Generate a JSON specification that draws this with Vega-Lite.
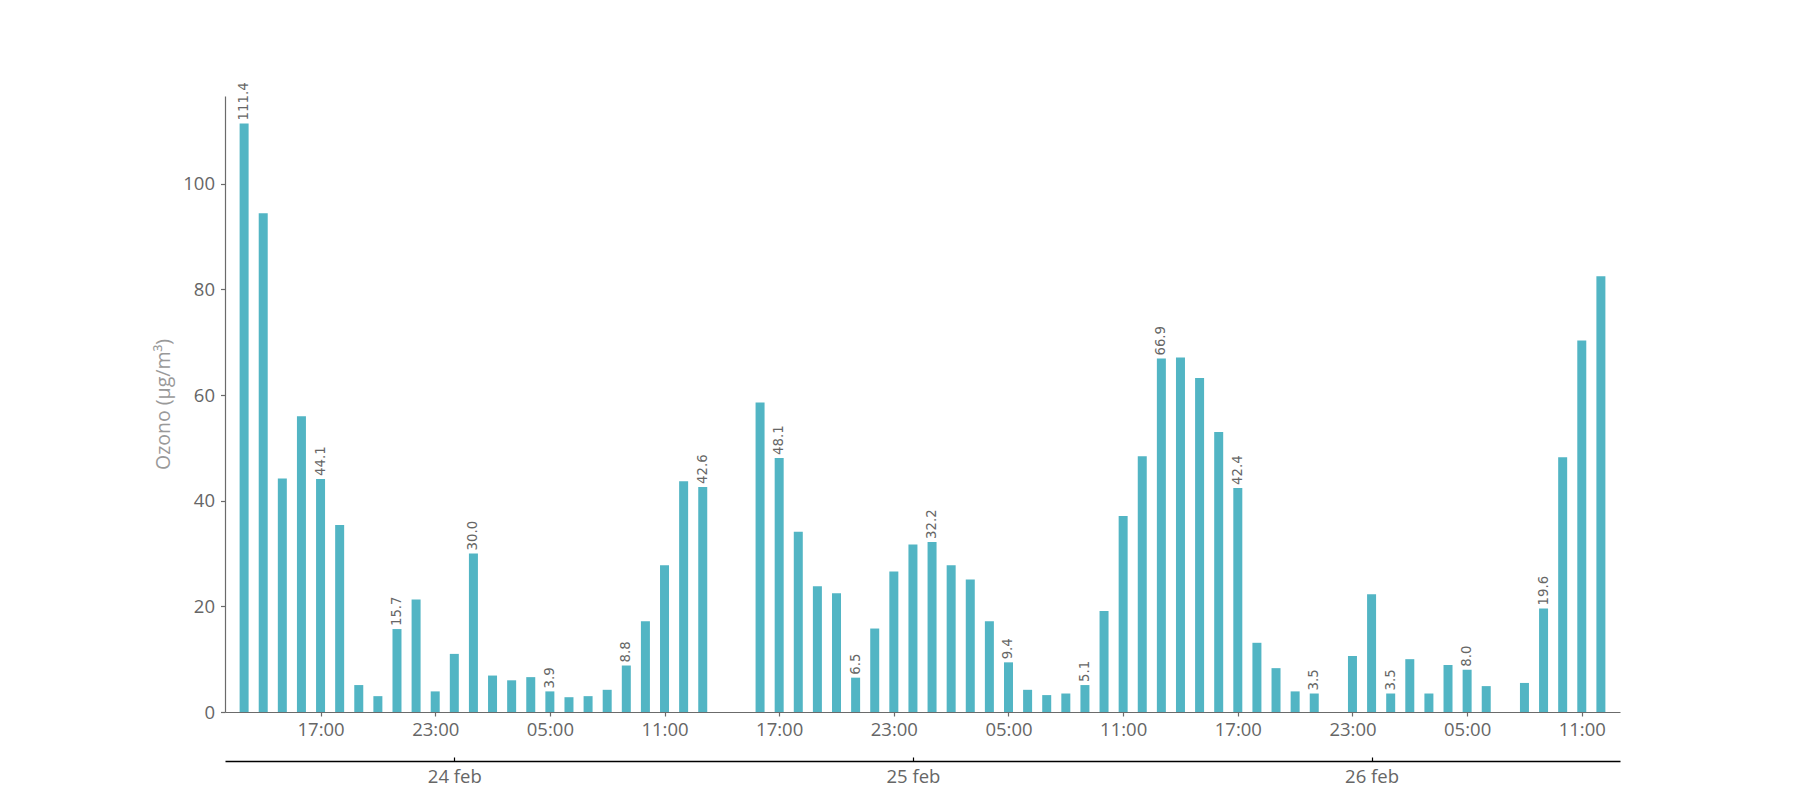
{
  "$schema": "https://vega.github.io/schema/vega-lite/v6.json",
  "autosize": {"type": "none"},
  "width": 1395,
  "height": 616,
  "padding": {"left": 225, "top": 96, "right": 180, "bottom": 88},
  "background": "white",
  "config": {
    "view": {"stroke": null},
    "axis": {"grid": false, "labelFont": "Open Sans", "titleFont": "Open Sans"}
  },
  "datasets": {
    "ozone": [
      {"time": "2024-02-23T13:00:00", "ozono": 111.4},
      {"time": "2024-02-23T14:00:00", "ozono": 94.4},
      {"time": "2024-02-23T15:00:00", "ozono": 44.2},
      {"time": "2024-02-23T16:00:00", "ozono": 56.0},
      {"time": "2024-02-23T17:00:00", "ozono": 44.1},
      {"time": "2024-02-23T18:00:00", "ozono": 35.4},
      {"time": "2024-02-23T19:00:00", "ozono": 5.1},
      {"time": "2024-02-23T20:00:00", "ozono": 3.0},
      {"time": "2024-02-23T21:00:00", "ozono": 15.7},
      {"time": "2024-02-23T22:00:00", "ozono": 21.3},
      {"time": "2024-02-23T23:00:00", "ozono": 3.9},
      {"time": "2024-02-24T00:00:00", "ozono": 11.0},
      {"time": "2024-02-24T01:00:00", "ozono": 30.0},
      {"time": "2024-02-24T02:00:00", "ozono": 6.9},
      {"time": "2024-02-24T03:00:00", "ozono": 6.0},
      {"time": "2024-02-24T04:00:00", "ozono": 6.6},
      {"time": "2024-02-24T05:00:00", "ozono": 3.9},
      {"time": "2024-02-24T06:00:00", "ozono": 2.8},
      {"time": "2024-02-24T07:00:00", "ozono": 3.0},
      {"time": "2024-02-24T08:00:00", "ozono": 4.2},
      {"time": "2024-02-24T09:00:00", "ozono": 8.8},
      {"time": "2024-02-24T10:00:00", "ozono": 17.2},
      {"time": "2024-02-24T11:00:00", "ozono": 27.8},
      {"time": "2024-02-24T12:00:00", "ozono": 43.7},
      {"time": "2024-02-24T13:00:00", "ozono": 42.6},
      {"time": "2024-02-24T16:00:00", "ozono": 58.6},
      {"time": "2024-02-24T17:00:00", "ozono": 48.1},
      {"time": "2024-02-24T18:00:00", "ozono": 34.1},
      {"time": "2024-02-24T19:00:00", "ozono": 23.8},
      {"time": "2024-02-24T20:00:00", "ozono": 22.5},
      {"time": "2024-02-24T21:00:00", "ozono": 6.5},
      {"time": "2024-02-24T22:00:00", "ozono": 15.8},
      {"time": "2024-02-24T23:00:00", "ozono": 26.6},
      {"time": "2024-02-25T00:00:00", "ozono": 31.7},
      {"time": "2024-02-25T01:00:00", "ozono": 32.2},
      {"time": "2024-02-25T02:00:00", "ozono": 27.8},
      {"time": "2024-02-25T03:00:00", "ozono": 25.1},
      {"time": "2024-02-25T04:00:00", "ozono": 17.2},
      {"time": "2024-02-25T05:00:00", "ozono": 9.4},
      {"time": "2024-02-25T06:00:00", "ozono": 4.2},
      {"time": "2024-02-25T07:00:00", "ozono": 3.2},
      {"time": "2024-02-25T08:00:00", "ozono": 3.5},
      {"time": "2024-02-25T09:00:00", "ozono": 5.1},
      {"time": "2024-02-25T10:00:00", "ozono": 19.1},
      {"time": "2024-02-25T11:00:00", "ozono": 37.1},
      {"time": "2024-02-25T12:00:00", "ozono": 48.4},
      {"time": "2024-02-25T13:00:00", "ozono": 66.9},
      {"time": "2024-02-25T14:00:00", "ozono": 67.1},
      {"time": "2024-02-25T15:00:00", "ozono": 63.2},
      {"time": "2024-02-25T16:00:00", "ozono": 53.0},
      {"time": "2024-02-25T17:00:00", "ozono": 42.4},
      {"time": "2024-02-25T18:00:00", "ozono": 13.1},
      {"time": "2024-02-25T19:00:00", "ozono": 8.3},
      {"time": "2024-02-25T20:00:00", "ozono": 3.9},
      {"time": "2024-02-25T21:00:00", "ozono": 3.5},
      {"time": "2024-02-25T23:00:00", "ozono": 10.6},
      {"time": "2024-02-26T00:00:00", "ozono": 22.3},
      {"time": "2024-02-26T01:00:00", "ozono": 3.5},
      {"time": "2024-02-26T02:00:00", "ozono": 10.0},
      {"time": "2024-02-26T03:00:00", "ozono": 3.5},
      {"time": "2024-02-26T04:00:00", "ozono": 8.9},
      {"time": "2024-02-26T05:00:00", "ozono": 8.0},
      {"time": "2024-02-26T06:00:00", "ozono": 4.9},
      {"time": "2024-02-26T08:00:00", "ozono": 5.5},
      {"time": "2024-02-26T09:00:00", "ozono": 19.6},
      {"time": "2024-02-26T10:00:00", "ozono": 48.2},
      {"time": "2024-02-26T11:00:00", "ozono": 70.3},
      {"time": "2024-02-26T12:00:00", "ozono": 82.5}
    ]
  },
  "data": {"name": "ozone"},
  "layer": [
    {
      "layer": [
        {
          "mark": {"type": "bar", "color": "#52b5c4", "width": 9},
          "encoding": {
            "x": {
              "field": "time",
              "type": "temporal",
              "scale": {"domain": [
                {"year": 2024, "month": 2, "date": 23, "hours": 12},
                {"year": 2024, "month": 2, "date": 26, "hours": 13}
              ], "padding": 0, "nice": false},
              "axis": {
                "title": null,
                "values": [
                  {"year": 2024, "month": 2, "date": 23, "hours": 17},
                  {"year": 2024, "month": 2, "date": 23, "hours": 23},
                  {"year": 2024, "month": 2, "date": 24, "hours": 5},
                  {"year": 2024, "month": 2, "date": 24, "hours": 11},
                  {"year": 2024, "month": 2, "date": 24, "hours": 17},
                  {"year": 2024, "month": 2, "date": 24, "hours": 23},
                  {"year": 2024, "month": 2, "date": 25, "hours": 5},
                  {"year": 2024, "month": 2, "date": 25, "hours": 11},
                  {"year": 2024, "month": 2, "date": 25, "hours": 17},
                  {"year": 2024, "month": 2, "date": 25, "hours": 23},
                  {"year": 2024, "month": 2, "date": 26, "hours": 5},
                  {"year": 2024, "month": 2, "date": 26, "hours": 11}
                ],
                "format": "%H:%M",
                "labelFontSize": 18.5,
                "labelColor": "#666666",
                "domainColor": "#6b6b6b",
                "domainWidth": 1.2,
                "tickColor": "#6b6b6b",
                "tickSize": 4,
                "tickWidth": 1.2,
                "labelPadding": 4,
                "labelFlush": false,
                "labelOverlap": false
              }
            },
            "y": {
              "field": "ozono",
              "type": "quantitative",
              "scale": {"domain": [0, 116.6], "nice": false, "zero": true, "padding": 0},
              "axis": {
                "values": [0, 20, 40, 60, 80, 100],
                "title": "Ozono (μg/m³)",
                "titleFontSize": 19.5,
                "titleFontWeight": "normal",
                "titleColor": "#999999",
                "titleAngle": 270,
                "titleAlign": "center",
                "titleBaseline": "middle",
                "titleX": -62,
                "titleY": 308,
                "labelFontSize": 18.5,
                "labelColor": "#666666",
                "domainColor": "#6b6b6b",
                "domainWidth": 1.2,
                "tickColor": "#6b6b6b",
                "tickWidth": 1.2,
                "tickSize": 4.5,
                "labelPadding": 6,
                "labelFlush": false
              }
            }
          }
        },
        {
          "transform": [{"filter": "hours(datum.time) % 4 == 1"}],
          "mark": {
            "type": "text",
            "angle": 270,
            "align": "left",
            "baseline": "middle",
            "dx": 3,
            "font": "DejaVu Sans",
            "fontSize": 13.3,
            "color": "#666666"
          },
          "encoding": {
            "x": {"field": "time", "type": "temporal"},
            "y": {"field": "ozono", "type": "quantitative"},
            "text": {"field": "ozono", "type": "quantitative", "format": ".1f"}
          }
        }
      ]
    },
    {
      "mark": {"type": "point", "opacity": 0},
      "encoding": {
        "x": {
          "field": "time",
          "type": "temporal",
          "scale": {"domain": [
            {"year": 2024, "month": 2, "date": 23, "hours": 12},
            {"year": 2024, "month": 2, "date": 26, "hours": 13}
          ], "padding": 0, "nice": false},
          "axis": {
            "title": null,
            "orient": "bottom",
            "offset": 49,
            "values": [
              {"year": 2024, "month": 2, "date": 24, "hours": 0},
              {"year": 2024, "month": 2, "date": 25, "hours": 0},
              {"year": 2024, "month": 2, "date": 26, "hours": 0}
            ],
            "labelExpr": "timeFormat(datum.value, '%-d') + ' ' + lower(timeFormat(datum.value, '%b'))",
            "labelFontSize": 18.5,
            "labelColor": "#666666",
            "domainColor": "#000000",
            "domainWidth": 1.5,
            "tickColor": "#000000",
            "tickWidth": 1.2,
            "tickSize": -4,
            "labelPadding": 10,
            "labelFlush": false,
            "labelOverlap": false
          }
        }
      }
    }
  ],
  "resolve": {"scale": {"x": "independent"}, "axis": {"x": "independent"}}
}
